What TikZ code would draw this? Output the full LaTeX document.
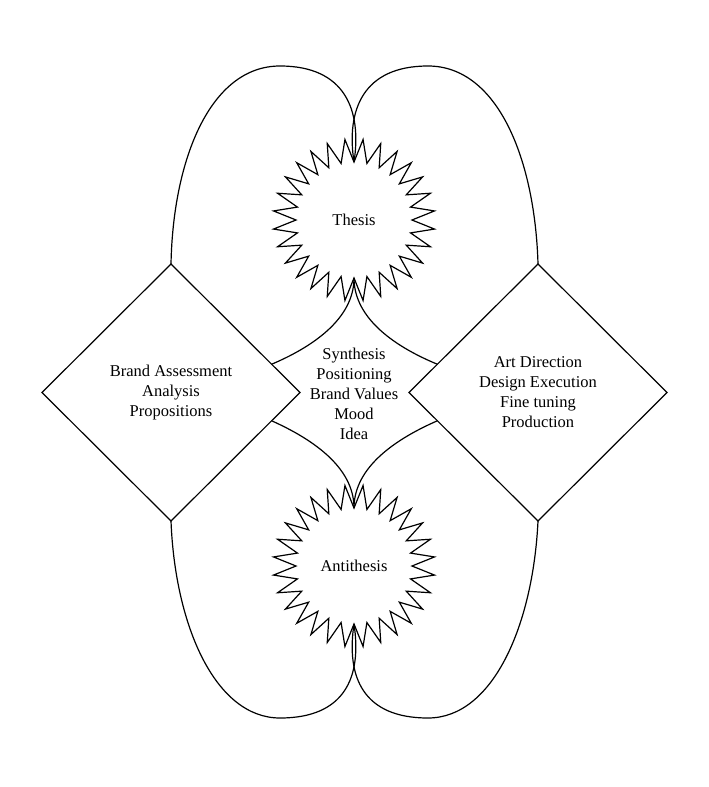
\documentclass[tikz,border=0pt]{standalone}
\usepackage{fontspec}
\setmainfont{Liberation Serif}
\usetikzlibrary{shapes.geometric,calc}
\begin{document}
\begin{tikzpicture}[x=1pt,y=-1pt,
  every node/.style={font=\fontsize{16.5}{20}\selectfont, align=center},
  box/.style={diamond, draw, line width=1.2pt, minimum width=258pt, minimum height=257pt, inner sep=0pt, outer sep=0pt},
  burst/.style={star, star points=28, star point ratio=1.397, shape border rotate=6.4286, draw, line width=1.2pt, minimum size=162pt, inner sep=0pt, outer sep=0pt},
  link/.style={line width=1.2pt}]
\useasboundingbox (0,0) rectangle (709,787);
\node[box] (ld) at (171,392.5) {Brand Assessment\\Analysis\\Propositions};
\node[box] (rd) at (538,392.5) {Art Direction\\Design Execution\\Fine tuning\\Production};
\node[burst] (thesis) at (354,220) {Thesis};
\node[burst] (anti) at (354,566) {Antithesis};
\node (synth) at (354,394) {Synthesis\\Positioning\\Brand Values\\Mood\\Idea};
\coordinate (ldA) at ($(ld.north)!0.78!(ld.east)$);
\coordinate (ldB) at ($(ld.east)!0.22!(ld.south)$);
\coordinate (rdA) at ($(rd.north)!0.78!(rd.west)$);
\coordinate (rdB) at ($(rd.west)!0.22!(rd.south)$);
\draw[link] (ld.north) .. controls (173,160) and (210,66) .. (280,66) .. controls (345,66) and (362,110) .. (thesis.north);
\draw[link] (rd.north) .. controls (535,160) and (498,66) .. (428,66) .. controls (363,66) and (346,110) .. (thesis.north);
\draw[link] (ld.south) .. controls (175,625) and (215,718) .. (280,718) .. controls (345,718) and (362,677) .. (anti.south);
\draw[link] (rd.south) .. controls (533,625) and (493,718) .. (428,718) .. controls (363,718) and (346,677) .. (anti.south);
\draw[link] (thesis.south) .. controls (354,320) and (310,348) .. (ldA);
\draw[link] (thesis.south) .. controls (354,320) and (398,348) .. (rdA);
\draw[link] (anti.north) .. controls (354,466) and (310,438) .. (ldB);
\draw[link] (anti.north) .. controls (354,466) and (398,438) .. (rdB);
\end{tikzpicture}
\end{document}
